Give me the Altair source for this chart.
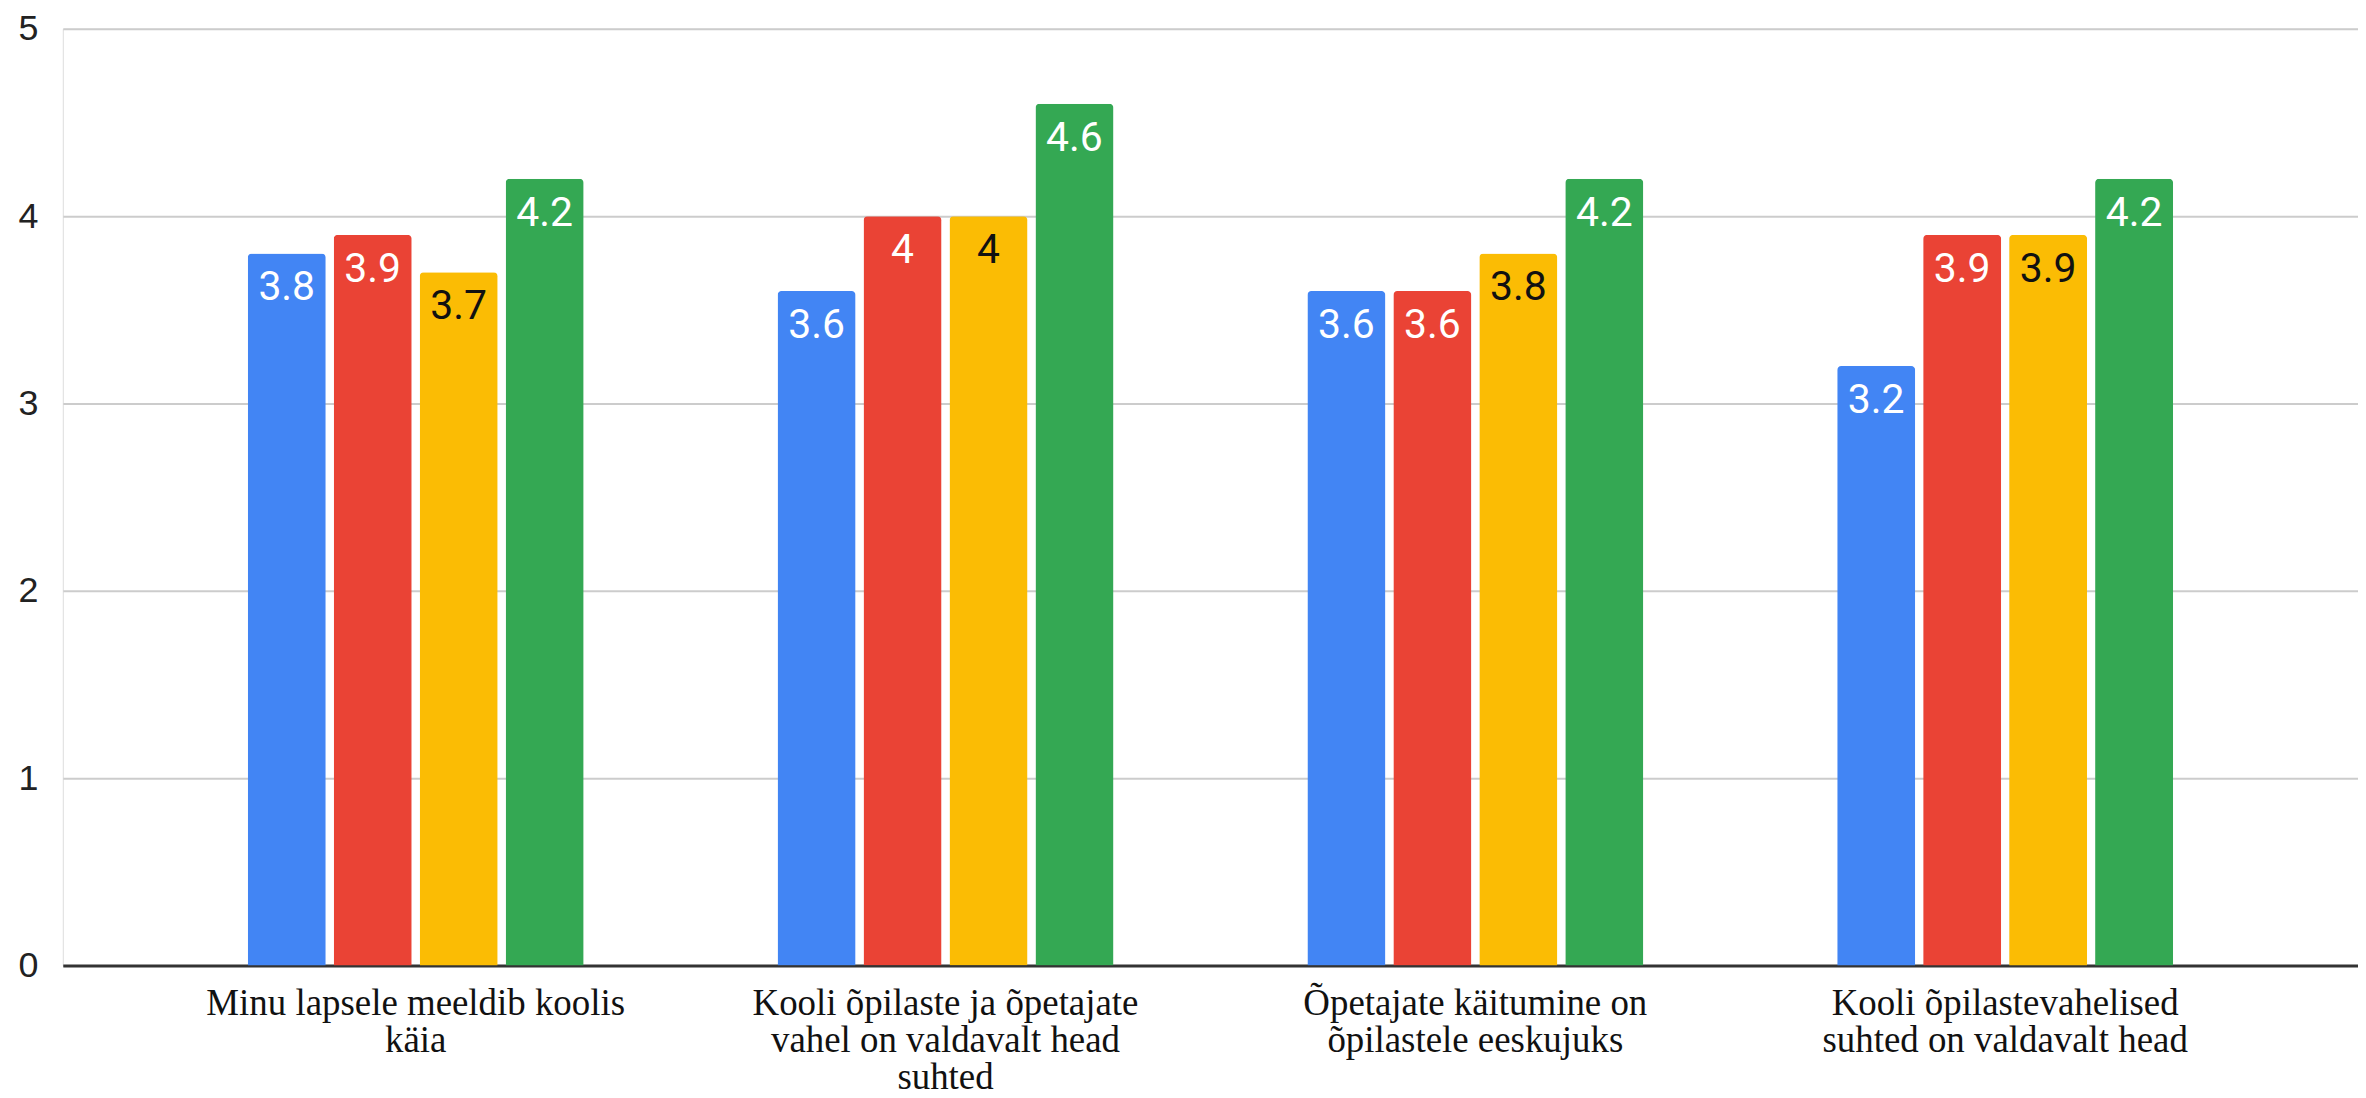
import altair as alt
import pandas as pd

categories = [
    "Minu lapsele meeldib koolis\nkäia",
    "Kooli õpilaste ja õpetajate\nvahel on valdavalt head\nsuhted",
    "Õpetajate käitumine on\nõpilastele eeskujuks",
    "Kooli õpilastevahelised\nsuhted on valdavalt head",
]
series = ["Seeria 1", "Seeria 2", "Seeria 3", "Seeria 4"]
colors = ["#4285F4", "#EA4335", "#FBBC04", "#34A853"]

values_s1 = [3.8, 3.6, 3.6, 3.2]
values_s2 = [3.9, 4.0, 3.6, 3.9]
values_s3 = [3.7, 4.0, 3.8, 3.9]
values_s4 = [4.2, 4.6, 4.2, 4.2]

y_ticks = [0, 1, 2, 3, 4, 5]

rows = []
for s, vals in zip(series, [values_s1, values_s2, values_s3, values_s4]):
    for c, v in zip(categories, vals):
        rows.append({"category": c, "series": s, "value": v})
df = pd.DataFrame(rows)

x_enc = alt.X(
    "category:N",
    sort=categories,
    title=None,
    scale=alt.Scale(paddingInner=0.366, paddingOuter=0.349),
    axis=alt.Axis(
        labelExpr="split(datum.label, '\\n')",
        labelAngle=0,
        labelFont="Liberation Serif",
        labelFontSize=37,
        labelLineHeight=37,
        labelColor="#111111",
        labelPadding=20,
        labelLimit=800,
        labelOverlap=False,
        ticks=False,
        domain=True,
        domainColor="#333333",
        domainWidth=3,
        grid=False,
    ),
)
xoff_enc = alt.XOffset(
    "series:N",
    sort=series,
    scale=alt.Scale(paddingInner=0.0925, paddingOuter=0),
)
y_enc = alt.Y(
    "value:Q",
    title=None,
    scale=alt.Scale(domain=[0, 5], nice=False),
    axis=alt.Axis(
        values=y_ticks,
        format="d",
        labelFont="Liberation Sans",
        labelFontSize=36,
        labelColor="#222222",
        labelPadding=25,
        ticks=False,
        domain=False,
        grid=True,
        gridColor="#cccccc",
        gridWidth=2,
    ),
)

bars = alt.Chart(df).mark_bar(cornerRadiusTopLeft=4, cornerRadiusTopRight=4).encode(
    x=x_enc,
    xOffset=xoff_enc,
    y=y_enc,
    color=alt.Color("series:N", sort=series,
                    scale=alt.Scale(domain=series, range=colors), legend=None),
)

labels = alt.Chart(df).mark_text(
    font="Roboto", fontSize=41, baseline="alphabetic", dy=47, align="center"
).encode(
    x=alt.X("category:N", sort=categories),
    xOffset=alt.XOffset("series:N", sort=series),
    y=alt.Y("value:Q"),
    text=alt.Text("value:Q", format=".1~f"),
    color=alt.condition(alt.datum.series == "Seeria 3", alt.value("#111111"), alt.value("#ffffff")),
)

chart = alt.layer(bars, labels).properties(
    width=2303,
    height=940,
    autosize=alt.AutoSizeParams(type="none"),
    padding={"left": 55, "top": 19, "right": 0, "bottom": 128},
).configure_view(stroke=None).configure(background="white")

chart.save("out.html", embed_options={"renderer": "svg", "actions": False})
